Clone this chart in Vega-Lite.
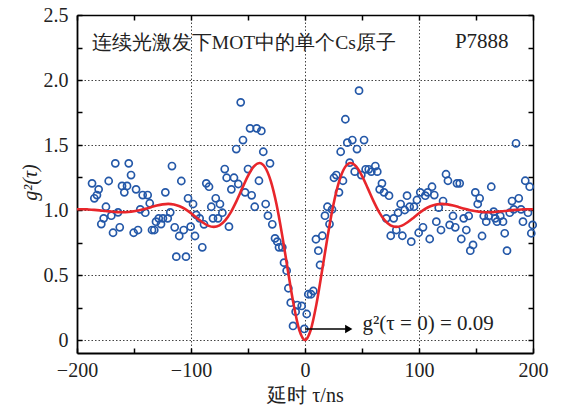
{
  "$schema": "https://vega.github.io/schema/vega-lite/v6.json",
  "width": 456,
  "height": 338,
  "autosize": {"type": "none"},
  "padding": {"left": 77, "top": 15, "right": 28, "bottom": 59},
  "background": "white",
  "config": {
    "view": {"stroke": null},
    "font": "Liberation Serif"
  },
  "datasets": {
    "points": [
      {"tau": -186.8, "g2": 1.205}, {"tau": -184.8, "g2": 1.090}, {"tau": -182.5, "g2": 1.115}, {"tau": -181.0, "g2": 1.159},
      {"tau": -178.7, "g2": 0.892}, {"tau": -176.6, "g2": 0.936}, {"tau": -174.6, "g2": 1.025}, {"tau": -172.2, "g2": 1.223},
      {"tau": -169.9, "g2": 0.956}, {"tau": -168.4, "g2": 0.825}, {"tau": -166.4, "g2": 1.359}, {"tau": -164.0, "g2": 0.982},
      {"tau": -162.5, "g2": 0.867}, {"tau": -160.5, "g2": 1.185}, {"tau": -158.5, "g2": 1.136}, {"tau": -156.1, "g2": 1.185},
      {"tau": -154.6, "g2": 1.359}, {"tau": -152.6, "g2": 1.269}, {"tau": -150.3, "g2": 0.825}, {"tau": -148.2, "g2": 1.159},
      {"tau": -146.5, "g2": 0.846}, {"tau": -144.5, "g2": 1.005}, {"tau": -142.4, "g2": 1.115}, {"tau": -140.1, "g2": 0.979},
      {"tau": -138.0, "g2": 1.115}, {"tau": -136.2, "g2": 1.052}, {"tau": -134.2, "g2": 0.846}, {"tau": -132.2, "g2": 0.846},
      {"tau": -130.7, "g2": 0.910}, {"tau": -128.3, "g2": 0.936}, {"tau": -126.3, "g2": 0.892}, {"tau": -124.6, "g2": 0.936},
      {"tau": -122.5, "g2": 1.136}, {"tau": -120.4, "g2": 0.936}, {"tau": -118.2, "g2": 0.982}, {"tau": -116.7, "g2": 1.338},
      {"tau": -114.3, "g2": 0.867}, {"tau": -112.9, "g2": 0.641}, {"tau": -110.3, "g2": 0.800}, {"tau": -108.5, "g2": 1.223},
      {"tau": -106.4, "g2": 0.846}, {"tau": -104.4, "g2": 0.641}, {"tau": -102.6, "g2": 1.090}, {"tau": -100.3, "g2": 0.872},
      {"tau": -98.2, "g2": 1.046}, {"tau": -96.5, "g2": 0.800}, {"tau": -95.4, "g2": 0.962}, {"tau": -92.4, "g2": 0.936},
      {"tau": -90.1, "g2": 0.713}, {"tau": -88.6, "g2": 0.890}, {"tau": -86.6, "g2": 1.205}, {"tau": -84.2, "g2": 1.179},
      {"tau": -82.2, "g2": 1.025}, {"tau": -80.7, "g2": 0.936}, {"tau": -78.3, "g2": 1.090}, {"tau": -76.3, "g2": 0.936},
      {"tau": -74.6, "g2": 1.046}, {"tau": -72.5, "g2": 0.979}, {"tau": -70.4, "g2": 1.315}, {"tau": -68.7, "g2": 1.248},
      {"tau": -66.7, "g2": 0.872}, {"tau": -64.6, "g2": 1.159}, {"tau": -62.3, "g2": 1.248}, {"tau": -60.3, "g2": 1.469},
      {"tau": -58.5, "g2": 1.200}, {"tau": -56.4, "g2": 1.828}, {"tau": -54.4, "g2": 1.538}, {"tau": -52.6, "g2": 1.136},
      {"tau": -50.0, "g2": 1.315}, {"tau": -48.2, "g2": 1.628}, {"tau": -46.8, "g2": 1.113}, {"tau": -44.1, "g2": 1.025},
      {"tau": -42.4, "g2": 1.628}, {"tau": -40.4, "g2": 1.225}, {"tau": -38.3, "g2": 1.608}, {"tau": -36.6, "g2": 1.448},
      {"tau": -34.5, "g2": 1.046}, {"tau": -32.5, "g2": 0.956}, {"tau": -30.7, "g2": 1.359}, {"tau": -28.7, "g2": 0.890},
      {"tau": -26.3, "g2": 0.782}, {"tau": -24.3, "g2": 0.756}, {"tau": -22.8, "g2": 0.713}, {"tau": -19.9, "g2": 0.713},
      {"tau": -18.4, "g2": 0.595}, {"tau": -16.1, "g2": 0.533}, {"tau": -14.6, "g2": 0.398}, {"tau": -12.5, "g2": 0.287},
      {"tau": -10.5, "g2": 0.108}, {"tau": -8.2, "g2": 0.218}, {"tau": -6.8, "g2": 0.269}, {"tau": -2.9, "g2": 0.262},
      {"tau": -0.6, "g2": 0.085}, {"tau": 1.5, "g2": 0.200}, {"tau": 2.9, "g2": 0.352}, {"tau": 5.3, "g2": 0.352},
      {"tau": 7.3, "g2": 0.377}, {"tau": 9.6, "g2": 0.775}, {"tau": 11.7, "g2": 0.687}, {"tau": 13.2, "g2": 0.577},
      {"tau": 15.2, "g2": 0.802}, {"tau": 17.5, "g2": 0.956}, {"tau": 19.7, "g2": 1.025}, {"tau": 21.5, "g2": 0.892},
      {"tau": 23.7, "g2": 1.004}, {"tau": 25.4, "g2": 1.248}, {"tau": 27.5, "g2": 1.269}, {"tau": 29.8, "g2": 1.136},
      {"tau": 31.3, "g2": 1.448}, {"tau": 33.3, "g2": 1.225}, {"tau": 35.4, "g2": 1.698}, {"tau": 37.1, "g2": 1.518},
      {"tau": 39.2, "g2": 1.364}, {"tau": 41.5, "g2": 1.538}, {"tau": 43.6, "g2": 1.295}, {"tau": 45.6, "g2": 1.469},
      {"tau": 47.4, "g2": 1.918}, {"tau": 49.4, "g2": 1.269}, {"tau": 51.8, "g2": 1.538}, {"tau": 53.2, "g2": 1.313},
      {"tau": 55.9, "g2": 1.313}, {"tau": 58.2, "g2": 1.295}, {"tau": 61.7, "g2": 1.338}, {"tau": 63.4, "g2": 1.295},
      {"tau": 65.5, "g2": 1.159}, {"tau": 67.5, "g2": 1.205}, {"tau": 69.3, "g2": 1.136}, {"tau": 71.3, "g2": 0.936},
      {"tau": 73.7, "g2": 1.110}, {"tau": 75.2, "g2": 0.802}, {"tau": 77.8, "g2": 0.936}, {"tau": 80.1, "g2": 0.846},
      {"tau": 81.6, "g2": 0.979}, {"tau": 83.9, "g2": 1.046}, {"tau": 85.4, "g2": 0.802}, {"tau": 87.5, "g2": 1.000},
      {"tau": 89.5, "g2": 1.110}, {"tau": 91.8, "g2": 1.025}, {"tau": 93.2, "g2": 0.756}, {"tau": 95.6, "g2": 1.025},
      {"tau": 98.2, "g2": 1.077}, {"tau": 99.7, "g2": 0.825}, {"tau": 101.1, "g2": 1.136}, {"tau": 103.5, "g2": 0.867},
      {"tau": 105.5, "g2": 1.110}, {"tau": 107.6, "g2": 1.136}, {"tau": 109.4, "g2": 0.777}, {"tau": 111.4, "g2": 1.179},
      {"tau": 113.4, "g2": 1.115}, {"tau": 115.2, "g2": 0.910}, {"tau": 117.3, "g2": 1.018}, {"tau": 119.3, "g2": 0.846},
      {"tau": 121.1, "g2": 1.069}, {"tau": 123.7, "g2": 1.275}, {"tau": 125.4, "g2": 1.225}, {"tau": 126.9, "g2": 0.885},
      {"tau": 129.8, "g2": 0.954}, {"tau": 131.8, "g2": 0.867}, {"tau": 133.3, "g2": 1.205}, {"tau": 135.7, "g2": 1.205},
      {"tau": 137.1, "g2": 0.777}, {"tau": 139.2, "g2": 0.936}, {"tau": 141.5, "g2": 0.846}, {"tau": 143.6, "g2": 0.954},
      {"tau": 145.0, "g2": 0.687}, {"tau": 147.4, "g2": 0.731}, {"tau": 149.4, "g2": 1.136}, {"tau": 151.5, "g2": 1.046},
      {"tau": 153.2, "g2": 1.090}, {"tau": 155.3, "g2": 0.800}, {"tau": 156.8, "g2": 0.954}, {"tau": 159.0, "g2": 0.910},
      {"tau": 161.1, "g2": 0.954}, {"tau": 163.4, "g2": 1.179}, {"tau": 165.5, "g2": 0.987}, {"tau": 166.9, "g2": 0.936},
      {"tau": 168.4, "g2": 0.910}, {"tau": 171.3, "g2": 0.954}, {"tau": 173.7, "g2": 0.910}, {"tau": 175.2, "g2": 0.821},
      {"tau": 177.2, "g2": 0.687}, {"tau": 179.6, "g2": 0.979}, {"tau": 181.6, "g2": 1.069}, {"tau": 183.1, "g2": 1.005},
      {"tau": 185.1, "g2": 1.513}, {"tau": 187.5, "g2": 1.090}, {"tau": 189.5, "g2": 1.005}, {"tau": 191.2, "g2": 0.910},
      {"tau": 193.2, "g2": 1.225}, {"tau": 195.6, "g2": 0.979}, {"tau": 197.1, "g2": 1.179}, {"tau": 198.5, "g2": 0.821},
      {"tau": 199.7, "g2": 0.885}
    ],
    "fit": [
      {"tau": -200, "g2": 1.006}, {"tau": -195, "g2": 1.006}, {"tau": -190, "g2": 1.004}, {"tau": -185, "g2": 1.001},
      {"tau": -180, "g2": 0.997}, {"tau": -175, "g2": 0.992}, {"tau": -170, "g2": 0.988}, {"tau": -165, "g2": 0.984},
      {"tau": -160, "g2": 0.983}, {"tau": -155, "g2": 0.985}, {"tau": -150, "g2": 0.990}, {"tau": -145, "g2": 0.998},
      {"tau": -140, "g2": 1.009}, {"tau": -135, "g2": 1.022}, {"tau": -130, "g2": 1.034}, {"tau": -125, "g2": 1.043},
      {"tau": -120, "g2": 1.047}, {"tau": -115, "g2": 1.043}, {"tau": -110, "g2": 1.029}, {"tau": -105, "g2": 1.006},
      {"tau": -100, "g2": 0.975}, {"tau": -95, "g2": 0.939}, {"tau": -90, "g2": 0.906}, {"tau": -85, "g2": 0.880},
      {"tau": -80, "g2": 0.870}, {"tau": -75, "g2": 0.882}, {"tau": -70, "g2": 0.920}, {"tau": -65, "g2": 0.984},
      {"tau": -60, "g2": 1.070}, {"tau": -55, "g2": 1.168}, {"tau": -50, "g2": 1.262}, {"tau": -45, "g2": 1.333},
      {"tau": -40, "g2": 1.361}, {"tau": -35, "g2": 1.328}, {"tau": -30, "g2": 1.222}, {"tau": -25, "g2": 1.044},
      {"tau": -20, "g2": 0.805}, {"tau": -15, "g2": 0.534}, {"tau": -10, "g2": 0.274}, {"tau": -5, "g2": 0.077},
      {"tau": 0, "g2": 0.0},
      {"tau": 5, "g2": 0.077}, {"tau": 10, "g2": 0.274}, {"tau": 15, "g2": 0.534}, {"tau": 20, "g2": 0.805},
      {"tau": 25, "g2": 1.044}, {"tau": 30, "g2": 1.222}, {"tau": 35, "g2": 1.328}, {"tau": 40, "g2": 1.361},
      {"tau": 45, "g2": 1.333}, {"tau": 50, "g2": 1.262}, {"tau": 55, "g2": 1.168}, {"tau": 60, "g2": 1.070},
      {"tau": 65, "g2": 0.984}, {"tau": 70, "g2": 0.920}, {"tau": 75, "g2": 0.882}, {"tau": 80, "g2": 0.870},
      {"tau": 85, "g2": 0.880}, {"tau": 90, "g2": 0.906}, {"tau": 95, "g2": 0.939}, {"tau": 100, "g2": 0.975},
      {"tau": 105, "g2": 1.006}, {"tau": 110, "g2": 1.029}, {"tau": 115, "g2": 1.043}, {"tau": 120, "g2": 1.047},
      {"tau": 125, "g2": 1.043}, {"tau": 130, "g2": 1.034}, {"tau": 135, "g2": 1.022}, {"tau": 140, "g2": 1.009},
      {"tau": 145, "g2": 0.998}, {"tau": 150, "g2": 0.990}, {"tau": 155, "g2": 0.985}, {"tau": 160, "g2": 0.983},
      {"tau": 165, "g2": 0.984}, {"tau": 170, "g2": 0.988}, {"tau": 175, "g2": 0.992}, {"tau": 180, "g2": 0.997},
      {"tau": 185, "g2": 1.001}, {"tau": 190, "g2": 1.004}, {"tau": 195, "g2": 1.006}, {"tau": 200, "g2": 1.006}
    ],
    "arrow": [{"tau": 0, "tau2": 37, "g2": 0.085, "head": 38.4}],
    "notes": [
      {"id": "title", "tau": -187, "g2": 2.235, "label": "连续光激发下MOT中的单个Cs原子"},
      {"id": "tag", "tau": 131.5, "g2": 2.245, "label": "P7888"},
      {"id": "value", "tau": 50.5, "g2": 0.078, "label": "g²(τ = 0) = 0.09"}
    ]
  },
  "layer": [
    {
      "data": {"name": "points"},
      "mark": {"type": "point", "shape": "circle", "filled": false, "size": 50, "strokeWidth": 1.7, "color": "#2458a8", "opacity": 1},
      "encoding": {
        "x": {
          "field": "tau", "type": "quantitative",
          "scale": {"domain": [-200, 200], "nice": false, "zero": false},
          "axis": {
            "orient": "bottom",
            "values": [-200, -150, -100, -50, 0, 50, 100, 150, 200],
            "labelExpr": "datum.value % 100 === 0 ? (datum.value < 0 ? '\u2212' + abs(datum.value) : '' + datum.value) : ''",
            "tickSize": -5, "tickColor": "black", "tickWidth": 1.5,
            "domainColor": "black", "domainWidth": 1.8,
            "grid": true, "gridColor": "#444", "gridDash": [1.5, 2], "gridWidth": 1,
            "gridOpacity": {"condition": {"test": "datum.value % 100 !== 0 || abs(datum.value) === 200", "value": 0}, "value": 1},
            "labelFont": "Liberation Serif", "labelFontSize": 20, "labelColor": "#222", "labelPadding": 12, "labelFlush": false,
            "title": "延时 τ/ns", "titleFont": "Liberation Serif", "titleFontSize": 20, "titleFontWeight": "normal", "titleColor": "#222",
            "titleY": 32, "titleBaseline": "top"
          }
        },
        "y": {
          "field": "g2", "type": "quantitative",
          "scale": {"domain": [-0.1, 2.5], "nice": false, "zero": false},
          "axis": {
            "orient": "left",
            "values": [0, 0.25, 0.5, 0.75, 1, 1.25, 1.5, 1.75, 2, 2.25, 2.5],
            "labelExpr": "abs(datum.value * 2 - round(datum.value * 2)) < 0.01 ? (datum.value === 0 ? '0' : format(datum.value, '.1f')) : ''",
            "tickSize": -5, "tickColor": "black", "tickWidth": 1.5,
            "domainColor": "black", "domainWidth": 1.8,
            "grid": true, "gridColor": "#444", "gridDash": [1.5, 2], "gridWidth": 1,
            "gridOpacity": {"condition": {"test": "abs(datum.value * 2 - round(datum.value * 2)) > 0.01 || datum.value >= 2.5", "value": 0}, "value": 1},
            "labelFont": "Liberation Serif", "labelFontSize": 20, "labelColor": "#222", "labelPadding": 14, "labelFlush": false,
            "title": "g²(τ)", "titleFont": "Liberation Serif", "titleFontSize": 20, "titleFontWeight": "normal", "titleFontStyle": "italic", "titleColor": "#222",
            "titleX": -47, "titleY": 167, "titleAngle": -90, "titleAlign": "center", "titleBaseline": "middle"
          }
        }
      }
    },
    {
      "data": {"name": "fit"},
      "mark": {"type": "line", "color": "#e8262b", "strokeWidth": 2.6, "interpolate": "monotone", "clip": true},
      "encoding": {
        "x": {
          "field": "tau", "type": "quantitative",
          "scale": {"domain": [-200, 200], "nice": false, "zero": false},
          "axis": {
            "orient": "top", "values": [-200, -150, -100, -50, 0, 50, 100, 150, 200],
            "labels": false, "title": null, "grid": false,
            "tickSize": -5, "tickColor": "black", "tickWidth": 1.5,
            "domainColor": "black", "domainWidth": 1.5
          }
        },
        "y": {
          "field": "g2", "type": "quantitative",
          "scale": {"domain": [-0.1, 2.5], "nice": false, "zero": false},
          "axis": {
            "orient": "right", "values": [0, 0.25, 0.5, 0.75, 1, 1.25, 1.5, 1.75, 2, 2.25, 2.5],
            "labels": false, "title": null, "grid": false,
            "tickSize": -5, "tickColor": "black", "tickWidth": 1.5,
            "domainColor": "black", "domainWidth": 1.5
          }
        }
      }
    },
    {
      "data": {"name": "arrow"},
      "mark": {"type": "rule", "color": "black", "strokeWidth": 1.4},
      "encoding": {
        "x": {"field": "tau", "type": "quantitative", "axis": null},
        "x2": {"field": "tau2"},
        "y": {"field": "g2", "type": "quantitative", "axis": null}
      }
    },
    {
      "data": {"name": "arrow"},
      "mark": {"type": "point", "shape": "triangle-right", "filled": true, "color": "black", "size": 70, "opacity": 1},
      "encoding": {
        "x": {"field": "head", "type": "quantitative", "axis": null},
        "y": {"field": "g2", "type": "quantitative", "axis": null}
      }
    },
    {
      "data": {"name": "notes"},
      "transform": [{"filter": "datum.id === 'title'"}],
      "mark": {"type": "text", "align": "left", "baseline": "alphabetic", "font": "Liberation Serif", "fontSize": 19.5, "color": "#222"},
      "encoding": {
        "x": {"field": "tau", "type": "quantitative", "axis": null},
        "y": {"field": "g2", "type": "quantitative", "axis": null},
        "text": {"field": "label"}
      }
    },
    {
      "data": {"name": "notes"},
      "transform": [{"filter": "datum.id === 'tag'"}],
      "mark": {"type": "text", "align": "left", "baseline": "alphabetic", "font": "Liberation Serif", "fontSize": 21, "color": "#222"},
      "encoding": {
        "x": {"field": "tau", "type": "quantitative", "axis": null},
        "y": {"field": "g2", "type": "quantitative", "axis": null},
        "text": {"field": "label"}
      }
    },
    {
      "data": {"name": "notes"},
      "transform": [{"filter": "datum.id === 'value'"}],
      "mark": {"type": "text", "align": "left", "baseline": "alphabetic", "font": "Liberation Serif", "fontSize": 21, "color": "#222"},
      "encoding": {
        "x": {"field": "tau", "type": "quantitative", "axis": null},
        "y": {"field": "g2", "type": "quantitative", "axis": null},
        "text": {"field": "label"}
      }
    }
  ],
  "resolve": {"axis": {"x": "independent", "y": "independent"}}
}
